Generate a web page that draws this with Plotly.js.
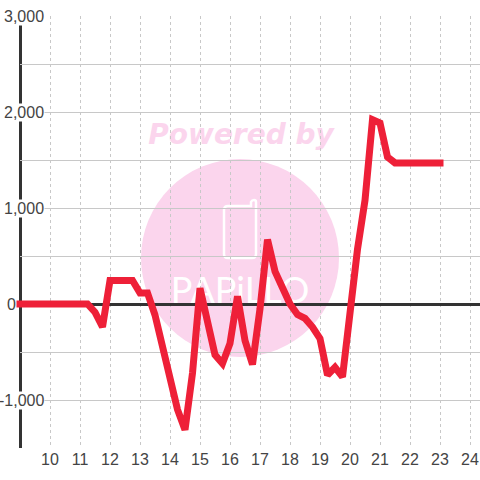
<!DOCTYPE html>
<html>
<head>
<meta charset="utf-8">
<script src="https://cdn.plot.ly/plotly-3.0.1.min.js"></script>
<style>
html,body{margin:0;padding:0;background:#fff}
#chart{width:480px;height:480px}
.scatterlayer .js-line{stroke-linecap:square !important;stroke-linejoin:miter !important;stroke-miterlimit:2 !important}
.cartesianlayer *{clip-path:none !important}
</style>
</head>
<body>
<div id="chart"></div>
<script>
var hours = [9,9.25,9.5,9.75,10,10.25,10.5,10.75,11,11.25,11.5,11.75,12,12.25,12.5,12.75,13,13.25,13.5,13.75,14,14.25,14.5,14.75,15,15.25,15.5,15.75,16,16.25,16.5,16.75,17,17.25,17.5,17.75,18,18.25,18.5,18.75,19,19.25,19.5,19.75,20,20.25,20.5,20.75,21,21.25,21.5,21.75,22,22.25,22.5,22.75,23];
var values = [0,0,0,0,0,0,0,0,0,0,-85,-240,245,245,245,245,115,115,-115,-450,-780,-1100,-1310,-720,165,-190,-530,-620,-410,80,-380,-630,-50,670,340,170,0,-110,-150,-240,-360,-740,-660,-760,-90,570,1080,1920,1885,1530,1470,1470,1470,1470,1470,1470,1470];
var xTicks = [10,11,12,13,14,15,16,17,18,19,20,21,22,23,24];
var yGrid = [-1500,-1000,-500,0,500,1000,1500,2000,2500,3000];
var yLabelValues = [3000,2000,1000,0,-1000];
var yLabelText = ['3,000','2,000','1,000','0','-1,000'];

var L = 20, T = 16, W = 460, H = 432;
function xp(p){return (p-L)/W;}
function yp(p){return (T+H-p)/H;}
function P(x,y){return xp(x).toFixed(5)+','+yp(y).toFixed(5);}

var pink = '#fbd5ed';
var shapes = [
  {type:'circle',layer:'below',xref:'paper',yref:'paper',x0:xp(141),x1:xp(339),y0:yp(357),y1:yp(159),fillcolor:pink,line:{width:0}},
  {type:'path',layer:'below',xref:'paper',yref:'paper',line:{color:'#fff',width:2.5},
   path:'M'+P(228,206)+' L'+P(251,206)+' L'+P(251,202)+' Q'+P(252,200)+' '+P(254,200)+' Q'+P(256,200)+' '+P(256,202)+' L'+P(256,254)+' Q'+P(256,258)+' '+P(252,258)+' L'+P(228,258)+' Q'+P(224,258)+' '+P(224,254)+' L'+P(224,210)+' Q'+P(224,206)+' '+P(228,206)+' Z'},
  {type:'rect',layer:'below',xref:'paper',yref:'paper',x0:xp(128),x1:xp(354),y0:yp(152),y1:yp(112),line:{width:0},fillcolor:'rgba(0,0,0,0)',
   label:{text:'<b><i>Powered by</i></b>',textposition:'middle center',font:{family:'DejaVu Sans',size:28,color:pink}}},
  {type:'rect',layer:'below',xref:'paper',yref:'paper',x0:xp(160),x1:xp(320),y0:yp(309),y1:yp(269),line:{width:0},fillcolor:'rgba(0,0,0,0)',
   label:{text:'PAPiLLO',textposition:'middle center',font:{family:'Lato',size:36,color:'#ffffff'}}},
  {type:'line',layer:'below',xref:'paper',yref:'paper',x0:xp(20.5),x1:xp(20.5),y0:0,y1:1,line:{color:'#333333',width:3}}
];

var annotations = yLabelValues.map(function(v,i){
  return {xref:'paper',yref:'y',x:v===0?xp(17):xp(45),y:v,xanchor:'right',yanchor:'middle',showarrow:false,
    text:yLabelText[i],font:{family:'Liberation Sans',size:16,color:'#444444'},
    bgcolor:v===0?'rgba(0,0,0,0)':'#ffffff',borderpad:0};
});

var trace = {type:'scatter',mode:'lines',x:hours,y:values,cliponaxis:false,
  line:{color:'#ee2038',width:7,shape:'linear'},hoverinfo:'skip'};

var layout = {
  width:480,height:480,
  margin:{l:L,r:0,t:T,b:32,pad:0},
  paper_bgcolor:'#ffffff',plot_bgcolor:'rgba(0,0,0,0)',
  showlegend:false,
  xaxis:{range:[9,24.3333],tickmode:'array',tickvals:xTicks,ticktext:xTicks.map(String),
    showgrid:true,gridcolor:'#c8c8c8',gridwidth:1,griddash:'3px,3px',zeroline:false,showline:false,
    ticks:'',tickfont:{family:'Liberation Sans',size:16,color:'#444444'}},
  yaxis:{range:[-1500,3000],tickmode:'array',tickvals:yGrid,showticklabels:false,
    showgrid:true,gridcolor:'#c8c8c8',gridwidth:1,
    zeroline:true,zerolinecolor:'#333333',zerolinewidth:3,showline:false,ticks:''},
  shapes:shapes,
  annotations:annotations
};
Plotly.newPlot('chart',[trace],layout,{displayModeBar:false,staticPlot:true});
</script>
</body>
</html>
